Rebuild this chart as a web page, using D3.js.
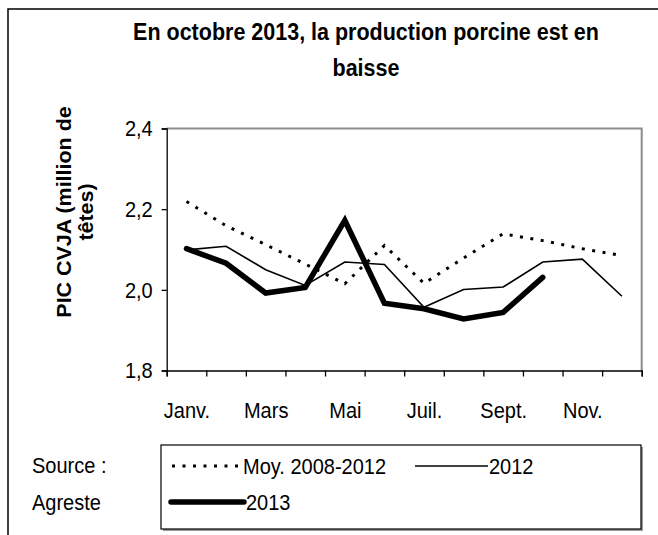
<!DOCTYPE html>
<html>
<head>
<meta charset="utf-8">
<script src="https://cdn.jsdelivr.net/npm/d3@7"></script>
<style>
    html, body { margin: 0; padding: 0; background: #fff; }
    svg text { font-family: "Liberation Sans", Arial, sans-serif; fill: #000; }
</style>
</head>
<body>
<div id="chart"></div>
<script>
    const months = ["Janv.", "Févr.", "Mars", "Avr.", "Mai", "Juin", "Juil.", "Août", "Sept.", "Oct.", "Nov.", "Déc."];
    const shownMonths = ["Janv.", "Mars", "Mai", "Juil.", "Sept.", "Nov."];
    const yTicks = [1.8, 2.0, 2.2, 2.4];

    const moy0812 = [2.219, 2.159, 2.112, 2.064, 2.015, 2.110, 2.016, 2.079, 2.139, 2.122, 2.102, 2.085];
    const y2012 = [2.099, 2.108, 2.050, 2.011, 2.069, 2.063, 1.957, 2.001, 2.007, 2.069, 2.076, 1.984];
    const y2013 = [2.102, 2.066, 1.992, 2.006, 2.172, 1.967, 1.953, 1.928, 1.944, 2.031];

    const seriesNames = ["Moy. 2008-2012", "2012", "2013"];

    const width = 658, height = 535;
    const plot = { left: 166.7, right: 641.7, top: 128.5, bottom: 370.5 };
    const stretch = 1.1; // text in the original looks taller than wide

    const svg = d3.select("#chart").append("svg")
        .attr("width", width)
        .attr("height", height);

    // make glyphs taller but keep the natural width
    function tall(sel, size) {
        sel.style("font-size", (size * stretch) + "px");
        sel.each(function () {
            const len = this.getComputedTextLength();
            if (len > 0) {
                d3.select(this)
                    .attr("textLength", len / stretch)
                    .attr("lengthAdjust", "spacingAndGlyphs");
            }
        });
        return sel;
    }

    // outer frame (runs off right/bottom edge)
    svg.append("rect")
        .attr("x", 8).attr("y", 9)
        .attr("width", 700).attr("height", 600)
        .style("fill", "#fff")
        .style("stroke", "#000")
        .style("stroke-width", "1.5px");

    // title
    const titleLines = ["En octobre 2013, la production porcine est en", "baisse"];
    titleLines.forEach((t, i) => {
        const el = svg.append("text")
            .attr("x", 366)
            .attr("y", 40 + i * 36)
            .attr("text-anchor", "middle")
            .style("font-weight", "bold")
            .text(t);
        tall(el, 21.5);
    });

    const x = d3.scalePoint()
        .domain(months)
        .range([plot.left, plot.right])
        .padding(0.5);

    const xEdges = d3.scaleLinear()
        .domain([0, months.length])
        .range([plot.left, plot.right]);

    const y = d3.scaleLinear()
        .domain([1.8, 2.4])
        .range([plot.bottom, plot.top]);

    // plot frame top/right in gray
    svg.append("path")
        .attr("d", `M${plot.left},${plot.top}H${plot.right}V${plot.bottom}`)
        .style("fill", "none")
        .style("stroke", "#8c8c8c")
        .style("stroke-width", "2px");

    const fmt = d => d3.format(".1f")(d).replace(".", ",");

    const yAxis = svg.append("g")
        .attr("transform", `translate(${plot.left},0)`)
        .call(d3.axisLeft(y).tickValues(yTicks).tickFormat(fmt).tickSize(5).tickPadding(9));
    yAxis.attr("font-family", null).attr("font-size", null);
    yAxis.selectAll("text").attr("dy", "0.34em").call(tall, 20);

    const xAxis = svg.append("g")
        .attr("transform", `translate(0,${plot.bottom})`)
        .call(d3.axisBottom(xEdges).tickValues(d3.range(months.length + 1)).tickFormat("").tickSize(6));

    const xLabels = svg.append("g")
        .attr("transform", `translate(0,${plot.bottom})`)
        .call(d3.axisBottom(x).tickFormat(d => shownMonths.includes(d) ? d : "").tickSize(0).tickPadding(0));
    xLabels.attr("font-family", null).attr("font-size", null);
    xLabels.select(".domain").remove();
    xLabels.selectAll("text").attr("dy", null).attr("y", 47).call(tall, 20);

    [yAxis, xAxis].forEach(a => {
        a.selectAll("path, line").style("stroke", "#000").style("stroke-width", "1.3px");
    });

    // y axis title, two rotated lines
    const yTitleLines = ["PIC CVJA (million de", "têtes)"];
    yTitleLines.forEach((t, i) => {
        const el = svg.append("text")
            .attr("transform", `translate(${71 + i * 22},212) rotate(-90)`)
            .attr("text-anchor", "middle")
            .style("font-size", "19.5px")
            .style("font-weight", "bold")
            .text(t);
        const len = el.node().getComputedTextLength();
        el.attr("textLength", len * stretch).attr("lengthAdjust", "spacingAndGlyphs");
    });

    const line = d3.line()
        .x((d, i) => x(months[i]))
        .y(d => y(d));

    const styles = [
        { data: moy0812, width: 3, dash: "3,7.5", cap: "butt" },
        { data: y2012, width: 1.6, dash: null, cap: "butt" },
        { data: y2013, width: 5.5, dash: null, cap: "round" }
    ];

    styles.forEach(s => {
        svg.append("path")
            .datum(s.data)
            .attr("d", line)
            .style("fill", "none")
            .style("stroke", "#000")
            .style("stroke-width", s.width + "px")
            .style("stroke-dasharray", s.dash)
            .style("stroke-linecap", s.cap)
            .style("stroke-linejoin", "miter");
    });

    // source
    svg.append("text").attr("x", 32).attr("y", 473).text("Source :").call(tall, 20);
    svg.append("text").attr("x", 32).attr("y", 510).text("Agreste").call(tall, 20);

    // legend box
    const legend = { x: 161, y: 445, w: 480, h: 84 };
    svg.append("rect")
        .attr("x", legend.x + 2).attr("y", legend.y + 2)
        .attr("width", legend.w).attr("height", legend.h)
        .style("fill", "#9a9a9a");
    svg.append("rect")
        .attr("x", legend.x).attr("y", legend.y)
        .attr("width", legend.w).attr("height", legend.h)
        .style("fill", "#fff")
        .style("stroke", "#000")
        .style("stroke-width", "1.2px");

    const legendItems = [
        { x0: 172, x1: 240, ly: 466, tx: 243, ty: 474 },
        { x0: 415, x1: 488, ly: 466, tx: 489, ty: 474 },
        { x0: 171, x1: 244, ly: 502, tx: 246, ty: 510 }
    ];

    legendItems.forEach((it, i) => {
        const s = styles[i];
        svg.append("line")
            .attr("x1", it.x0).attr("x2", it.x1)
            .attr("y1", it.ly).attr("y2", it.ly)
            .style("stroke", "#000")
            .style("stroke-width", s.width + "px")
            .style("stroke-dasharray", s.dash)
            .style("stroke-linecap", s.cap);
        svg.append("text")
            .attr("x", it.tx).attr("y", it.ty)
            .text(seriesNames[i])
            .call(tall, 20);
    });
</script>
</body>
</html>
